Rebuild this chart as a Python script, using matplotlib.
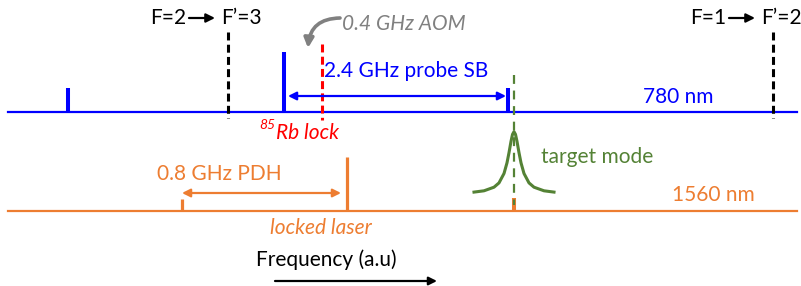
import matplotlib
matplotlib.use("Agg")
import matplotlib.pyplot as plt

plt.rcParams['font.family'] = ['Lato', 'DejaVu Sans']

# frequency positions (schematic units = pixels of the original drawing)
blue_x = [68, 284, 508]
blue_top = [88, 52, 88]
orange_x = [182, 347, 514]
orange_top = [199, 157, 198]
transition_x = [228, 773]
transition_labels = [("F=2", "F\u2019=3"), ("F=1", "F\u2019=2")]
label_shift = [7, 12]
rb_lock_x = 322
cavity_x = 514

# target mode line shape
mode_dx = [-40, -30, -20, -15, -10, -7, -5, -3, -1.5, 0, 1.5, 3, 5, 7, 10, 15, 20, 30, 40]
mode_y = [192.1, 190.8, 187.2, 182.9, 173.5, 162.8, 152.7, 141.4, 134.4, 131.7,
          134.4, 141.4, 152.7, 162.8, 173.5, 182.9, 187.2, 190.8, 192.1]

y780 = 112
y1560 = 211
x_start, x_end = 8, 797

BLUE = "#0000FF"
ORANGE = "#ED7D31"
RED = "#FF0000"
GREEN = "#548235"
GREY = "#808080"
FS = 15

fig = plt.figure(figsize=(8.01, 2.86), dpi=100)
ax = fig.add_axes([0, 0, 1, 1])
ax.set_xlim(0, 801)
ax.set_ylim(286, 0)
ax.axis("off")

# baselines
ax.plot([x_start, x_end], [y780, y780], color=BLUE, lw=1.6)
ax.plot([x_start, x_end], [y1560, y1560], color=ORANGE, lw=1.6)

# 780 nm lines
for x, top in zip(blue_x, blue_top):
    ax.plot([x, x], [y780, top], color=BLUE, lw=2.9, solid_capstyle="butt")

# 1560 nm lines
for i, (x, top) in enumerate(zip(orange_x, orange_top)):
    ax.plot([x, x], [y1560, top], color=ORANGE, lw=2.9 if i == 2 else 2.3,
            solid_capstyle="butt")

# atomic transitions
for x, (lo, hi), s in zip(transition_x, transition_labels, label_shift):
    ax.plot([x, x], [32, 118], color="black", lw=2.2, ls=(0, (2.6, 1.4)))
    ax.text(x - s, 18, hi, fontsize=FS, ha="left", va="center")
    ax.text(x - s - 35, 18, lo, fontsize=FS, ha="right", va="center")
    ax.annotate("", xy=(x - s - 6, 18), xytext=(x - s - 32, 18),
                arrowprops=dict(arrowstyle="-|>", color="black", lw=1.6,
                                mutation_scale=13, shrinkA=0, shrinkB=0))

# Rb lock
ax.plot([rb_lock_x, rb_lock_x], [44, 120], color=RED, lw=2.2, ls=(0, (2.6, 1.4)))
ax.text(276, 133, "Rb lock", color=RED, fontsize=FS, style="italic",
        ha="left", va="center")
ax.text(275, 125, "85", color=RED, fontsize=10, style="italic",
        ha="right", va="center")

# AOM
ax.text(342, 24, "0.4 GHz AOM", color=GREY, fontsize=FS, style="italic",
        ha="left", va="center")
ax.annotate("", xy=(308, 48), xytext=(340, 18),
            arrowprops=dict(arrowstyle="-|>", color=GREY, lw=2.6,
                            mutation_scale=14, shrinkA=0, shrinkB=0,
                            connectionstyle="arc3,rad=0.45"))

# probe sideband
ax.annotate("", xy=(blue_x[2] - 2, 96), xytext=(blue_x[1] + 4, 96),
            arrowprops=dict(arrowstyle="<|-|>", color=BLUE, lw=1.6,
                            mutation_scale=12, shrinkA=0, shrinkB=0))
ax.text(324, 71, "2.4 GHz probe SB", color=BLUE, fontsize=FS, ha="left", va="center")
ax.text(643, 97, "780 nm", color=BLUE, fontsize=FS, ha="left", va="center")

# PDH
ax.annotate("", xy=(orange_x[1] - 6, 193), xytext=(orange_x[0], 193),
            arrowprops=dict(arrowstyle="<|-|>", color=ORANGE, lw=1.6,
                            mutation_scale=12, shrinkA=0, shrinkB=0))
ax.text(157, 174, "0.8 GHz PDH", color=ORANGE, fontsize=FS, ha="left", va="center")
ax.text(270, 228, "locked laser", color=ORANGE, fontsize=FS, style="italic",
        ha="left", va="center")
ax.text(672, 195, "1560 nm", color=ORANGE, fontsize=FS, ha="left", va="center")

# target cavity mode
ax.plot([cavity_x, cavity_x], [75, 205], color=GREEN, lw=1.6, ls=(0, (4, 3)))
ax.plot([cavity_x + d for d in mode_dx], mode_y, color=GREEN, lw=2.2)
ax.text(541, 157, "target mode", color=GREEN, fontsize=FS, ha="left", va="center")

# frequency axis
ax.text(256, 260, "Frequency (a.u)", fontsize=FS, ha="left", va="center")
ax.annotate("", xy=(437, 281), xytext=(275, 281),
            arrowprops=dict(arrowstyle="-|>", color="black", lw=1.6,
                            mutation_scale=12, shrinkA=0, shrinkB=0))

fig.savefig("out.png", dpi=100)
